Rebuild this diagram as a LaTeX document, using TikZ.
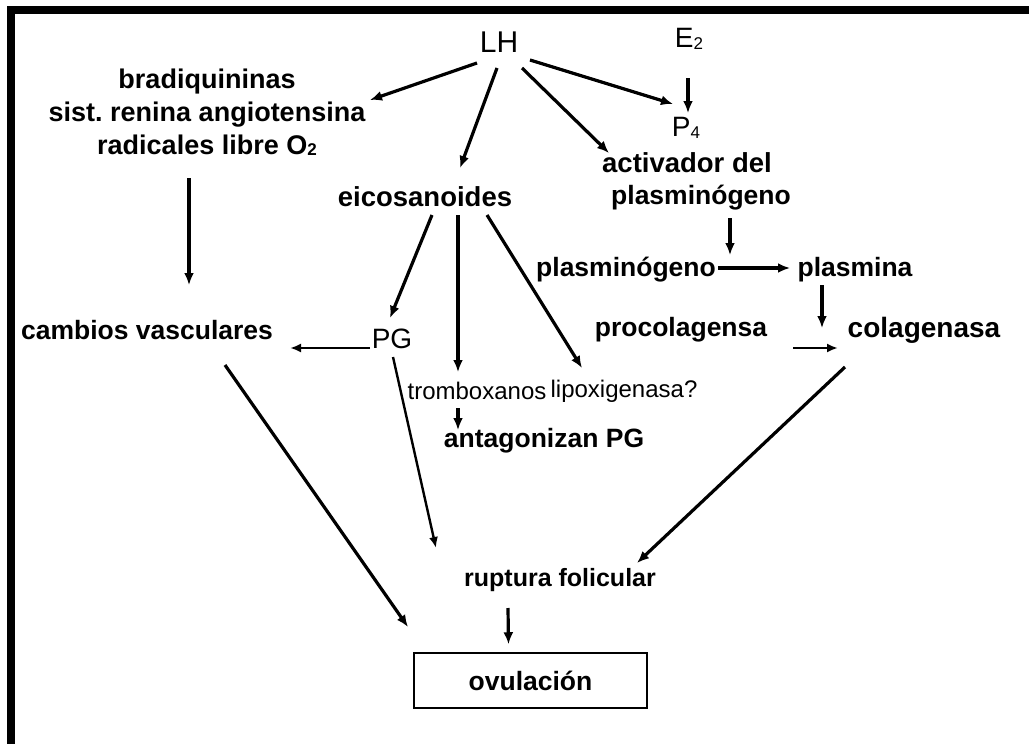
\documentclass[tikz,border=0pt]{standalone}
\usepackage{fontspec}
\setmainfont{Liberation Sans}
\usetikzlibrary{calc,arrows.meta}
\newcommand{\sub}[1]{\raisebox{-0.1ex}{\fontsize{17}{17}\selectfont #1}}
\begin{document}
\begin{tikzpicture}[x=1pt,y=-1pt,
  bt/.style={font=\fontsize{26.5}{33}\selectfont\bfseries, inner sep=0pt, align=center},
  rt/.style={font=\fontsize{28}{30}\selectfont, inner sep=0pt, align=center},
  arr/.style={line width=3.2pt, -{Latex[length=12pt,width=10pt]}},
  tarr/.style={line width=2.4pt, -{Latex[length=11pt,width=9pt]}}]
\useasboundingbox (0,0) rectangle (1029,744);
\fill[white] (0,0) rectangle (1029,744);
% border
\fill[black] (7,6) rectangle (1029,14);
\fill[black] (7,6) rectangle (15,744);
% nodes
\node[rt, font=\fontsize{30}{32}\selectfont] (LH) at (499,42) {LH};
\node[rt] (E2) at (689,39) {E\sub{2}};
\node[rt] (P4) at (686,128) {P\sub{4}};
\node[bt, font=\fontsize{27.5}{33}\selectfont\bfseries] (activ) at (687,163) {activador del};
\node[bt] (activb) at (701,198) {plasminógeno};
\node[bt, font=\fontsize{27}{33}\selectfont\bfseries] (brad) at (207,112) {bradiquininas\\sist.\ renina angiotensina\\radicales libre O\sub{2}};
\node[bt, font=\fontsize{27.5}{33}\selectfont\bfseries] (eico) at (425,197) {eicosanoides};
\node[bt] (plg) at (626,270) {plasminógeno};
\node[bt] (plm) at (855,270) {plasmina};
\node[bt] (camb) at (147,330) {cambios vasculares};
\node[rt] (PG) at (392,339) {PG};
\node[bt] (procol) at (681,330) {procolagensa};
\node[bt, font=\fontsize{28}{33}\selectfont\bfseries] (colag) at (924,330) {colagenasa};
\node[rt, font=\fontsize{24}{30}\selectfont] (tromb) at (477,391) {tromboxanos};
\node[rt, font=\fontsize{24}{30}\selectfont] (lipox) at (624,391) {lipoxigenasa?};
\node[bt] (antag) at (544,441) {antagonizan PG};
\node[bt, font=\fontsize{25}{33}\selectfont\bfseries] (rupt) at (560,580) {ruptura folicular};
\node[bt, draw, line width=1.5pt, minimum width=233pt, minimum height=55pt] (ovul) at (530.5,680.5) {ovulación};
\coordinate (f1) at (436,548);
\coordinate (f2) at (408,627);
% arrows
\draw[arr] ($(LH)+(-22,21)$) -- ($(brad)+(163,-12)$);
\draw[arr] ($(LH)+(-2,26)$) -- ($(eico)+(35,-29)$);
\draw[arr] ($(LH)+(23,26)$) -- ($(activ)+(-78,-10)$);
\draw[arr] ($(LH)+(31,18)$) -- ($(P4)+(-13,-24)$);
\draw[arr] ($(E2)+(-1,39)$) -- ($(P4)+(2,-15)$);
\draw[arr] ($(brad)+(-18,66)$) -- ($(camb)+(42,-45)$);
\draw[arr] ($(activb)+(29,20)$) -- ($(plg)+(104,-15)$);
\draw[arr] ($(plg)+(92,-2)$) -- ($(plm)+(-65,-2)$);
\draw[arr] ($(plm)+(-33,15)$) -- ($(colag)+(-102,-2)$);
\draw[tarr] ($(procol)+(112,18)$) -- ($(colag)+(-86,18)$);
\draw[arr] ($(eico)+(7,18)$) -- ($(PG)+(-2,-21)$);
\draw[arr] ($(eico)+(33,18)$) -- ($(tromb)+(-19,-19)$);
\draw[arr] ($(eico)+(62,18)$) -- ($(lipox)+(-42,-23)$);
\draw[tarr] ($(PG)+(-22,9)$) -- ($(camb)+(143,18)$);
\draw[arr] ($(tromb)+(-19,17)$) -- ($(antag)+(-86,-11)$);
\draw[tarr] ($(PG)+(1,18)$) -- (f1);
\draw[arr] ($(camb)+(78,35)$) -- (f2);
\draw[arr] ($(colag)+(-79,37)$) -- ($(rupt)+(77,-17)$);
\draw[arr] ($(rupt)+(-52,28)$) -- ($(ovul.north)+(-22,-8)$);
\end{tikzpicture}
\end{document}
